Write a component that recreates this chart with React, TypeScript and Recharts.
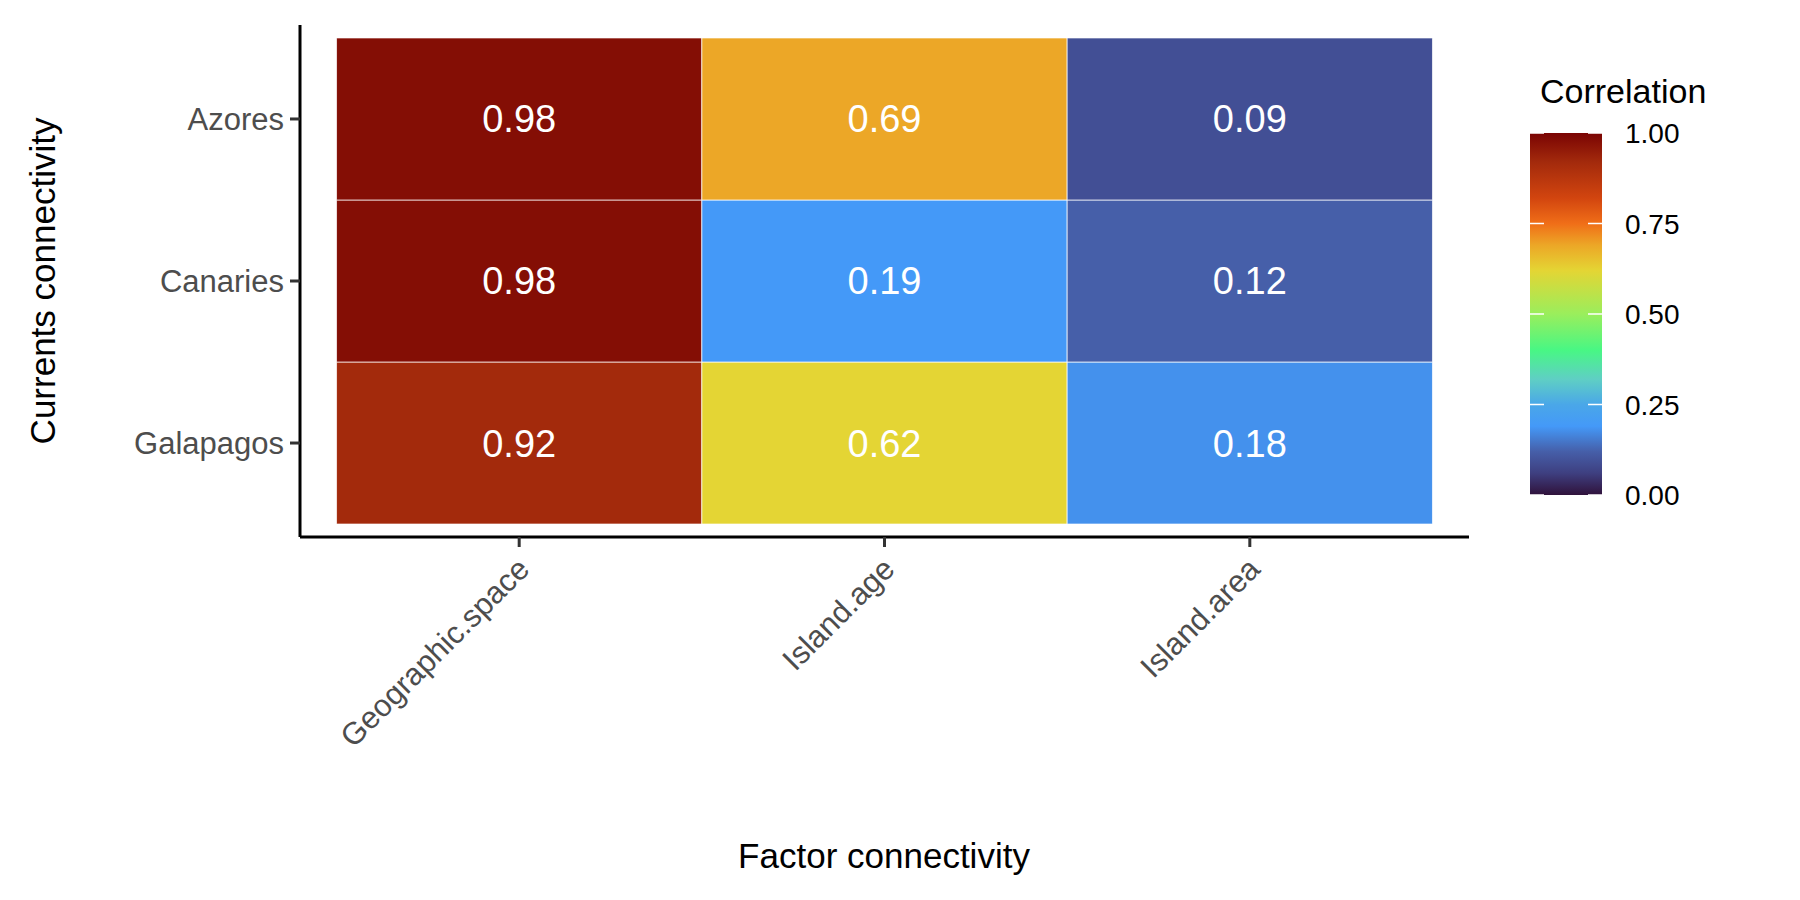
import React from "react";
import {
  ScatterChart,
  Scatter,
  XAxis,
  YAxis,
  ReferenceArea
} from "recharts";

const factors = ["Geographic.space", "Island.age", "Island.area"];
const regions = ["Galapagos", "Canaries", "Azores"];
// values[regionIndex][factorIndex]
const galapagos = [0.92, 0.62, 0.18];
const canaries = [0.98, 0.19, 0.12];
const azores = [0.98, 0.69, 0.09];
const values = [galapagos, canaries, azores];
const legendTicks = [0, 0.25, 0.5, 0.75, 1];

// colour scale
const stops: [number, string][] = [
  [0.0, "#30123b"],
  [0.06, "#3e3f80"],
  [0.12, "#465fa9"],
  [0.19, "#4499f8"],
  [0.25, "#4aa7e8"],
  [0.32, "#5fcfc4"],
  [0.4, "#48f784"],
  [0.5, "#9aee5c"],
  [0.62, "#e4d534"],
  [0.69, "#eca727"],
  [0.75, "#f06e18"],
  [0.82, "#d2450f"],
  [0.92, "#a32a0c"],
  [1.0, "#7a0403"]
];

function hex(c: string) {
  return [1, 3, 5].map((i) => parseInt(c.slice(i, i + 2), 16));
}
function colorAt(v: number) {
  for (let i = 1; i < stops.length; i++) {
    if (v <= stops[i][0]) {
      const [a, ca] = stops[i - 1];
      const [b, cb] = stops[i];
      const t = (v - a) / (b - a);
      const x = hex(ca), y = hex(cb);
      return `rgb(${x.map((c, k) => Math.round(c + (y[k] - c) * t)).join(",")})`;
    }
  }
  return stops[stops.length - 1][1];
}

const font = "'Liberation Sans', Arial, sans-serif";

const XTick = (props: any) => {
  const { x, y, payload } = props;
  return (
    <text
      x={x + 12}
      y={y + 22}
      textAnchor="end"
      transform={`rotate(-45 ${x + 12} ${y + 22})`}
      fontSize={31}
      fill="#4d4d4d"
      fontFamily={font}
    >
      {factors[payload.value]}
    </text>
  );
};

const YTick = (props: any) => {
  const { x, y, payload } = props;
  return (
    <text x={x - 4} y={y + 11} textAnchor="end" fontSize={31} fill="#4d4d4d" fontFamily={font}>
      {regions[payload.value]}
    </text>
  );
};

export default function App() {
  const cells: any[] = [];
  values.forEach((row, r) =>
    row.forEach((v, f) =>
      cells.push(
        <ReferenceArea
          key={`${r}-${f}`}
          x1={f - 0.5}
          x2={f + 0.5}
          y1={r - 0.5}
          y2={r + 0.5}
          fill={colorAt(v)}
          fillOpacity={1}
          stroke="#ffffff"
          strokeWidth={1}
          strokeOpacity={0.7}
          ifOverflow="extendDomain"
          label={{ value: v.toFixed(2), fill: "#ffffff", fontSize: 38, fontFamily: font, position: "center" }}
        />
      )
    )
  );

  const barTop = 133, barBottom = 495;
  return (
    <div style={{ position: "absolute", left: 0, top: 0, width: 1800, height: 900, background: "#fff", fontFamily: font }}>
      <ScatterChart width={1800} height={900} margin={{ top: 25, right: 331, bottom: 0, left: 0 }}>
        <XAxis
          type="number"
          dataKey="x"
          domain={[-0.6, 2.6]}
          ticks={[0, 1, 2]}
          height={363}
          tick={<XTick />}
          axisLine={{ stroke: "#000", strokeWidth: 3 }}
          tickLine={{ stroke: "#333", strokeWidth: 3 }}
          tickSize={10}
          allowDataOverflow
        />
        <YAxis
          type="number"
          dataKey="y"
          domain={[-0.58, 2.58]}
          ticks={[0, 1, 2]}
          width={300}
          tick={<YTick />}
          axisLine={{ stroke: "#000", strokeWidth: 3 }}
          tickLine={{ stroke: "#333", strokeWidth: 3 }}
          tickSize={10}
          allowDataOverflow
        />
        {cells}
        <Scatter data={[]} isAnimationActive={false} />
      </ScatterChart>
      <svg width={1800} height={900} style={{ position: "absolute", left: 0, top: 0, pointerEvents: "none" }}>
        <defs>
          <linearGradient id="corr" x1="0" y1="1" x2="0" y2="0">
            {stops.map(([o, c]) => (
              <stop key={o} offset={o} stopColor={c} />
            ))}
          </linearGradient>
        </defs>
        <text x={884} y={868} textAnchor="middle" fontSize={35} fontFamily={font} fill="#000">
          Factor connectivity
        </text>
        <text x={55} y={281} textAnchor="middle" fontSize={35} fontFamily={font} fill="#000" transform="rotate(-90 55 281)">
          Currents connectivity
        </text>
        <text x={1540} y={103} fontSize={34} fontFamily={font} fill="#000">
          Correlation
        </text>
        <rect x={1530} y={barTop} width={72} height={barBottom - barTop} fill="url(#corr)" />
        {legendTicks.map((t) => {
          const y = barBottom - t * (barBottom - barTop);
          return (
            <g key={t}>
              <line x1={1530} x2={1544} y1={y} y2={y} stroke="#fff" strokeWidth={1.5} />
              <line x1={1588} x2={1602} y1={y} y2={y} stroke="#fff" strokeWidth={1.5} />
              <text x={1625} y={y + 10} fontSize={28} fontFamily={font} fill="#000">
                {t.toFixed(2)}
              </text>
            </g>
          );
        })}
      </svg>
    </div>
  );
}
